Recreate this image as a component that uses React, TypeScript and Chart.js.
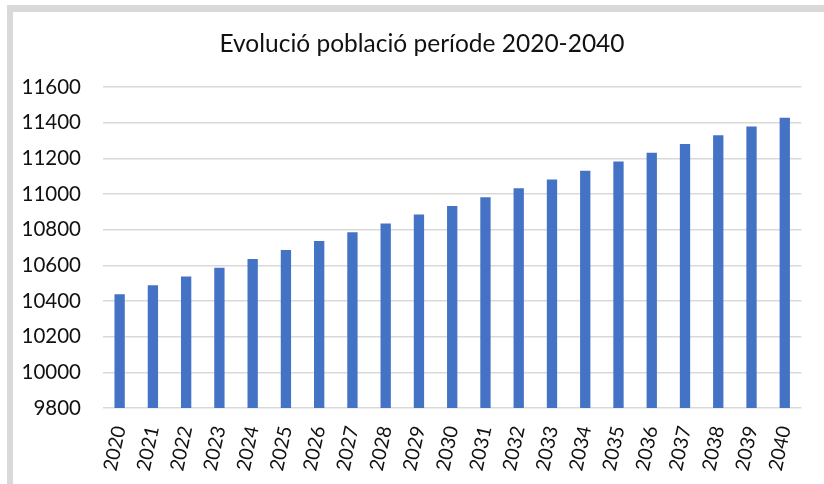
import React, { useEffect, useRef } from "react";
import { Chart, registerables } from "chart.js";

Chart.register(...registerables);

const years = ["2020","2021","2022","2023","2024","2025","2026","2027","2028","2029","2030","2031","2032","2033","2034","2035","2036","2037","2038","2039","2040"];
const population = [10438,10488,10538,10586,10635,10686,10736,10785,10834,10885,10933,10982,11032,11082,11131,11182,11232,11280,11329,11378,11428];
const titleText = "Evolució població període 2020-2040";
const yMin = 9800;
const yMax = 11600;
const yStep = 200;

const FONT = "Lato, 'Open Sans', sans-serif";

const titlePlugin = {
  id: "customTitle",
  afterDraw(chart: any) {
    const ctx = chart.ctx;
    ctx.save();
    ctx.font = `normal 24.5px ${FONT}`;
    ctx.fillStyle = "#111";
    ctx.textAlign = "center";
    ctx.textBaseline = "middle";
    ctx.fillText(titleText, 422, 44);
    ctx.restore();
  },
};

export default function App() {
  const ref = useRef<HTMLCanvasElement | null>(null);
  useEffect(() => {
    if (!ref.current) return;
    const chart = new Chart(ref.current, {
      type: "bar",
      data: {
        labels: years,
        datasets: [
          {
            data: population,
            backgroundColor: "#4472C4",
            borderWidth: 0,
            categoryPercentage: 1,
            barPercentage: 0.31,
          },
        ],
      },
      plugins: [titlePlugin],
      options: {
        animation: false,
        responsive: false,
        maintainAspectRatio: false,
        layout: { padding: { left: 0, right: 14, top: 87, bottom: 0 } },
        plugins: {
          legend: { display: false },
          tooltip: { enabled: false },
          title: { display: false },
        },
        scales: {
          x: {
            grid: { display: false, drawTicks: false },
            border: { display: false },
            ticks: {
              color: "#111",
              font: { family: FONT, size: 19.5 },
              minRotation: 78,
              maxRotation: 78,
              padding: 16,
              autoSkip: false,
            },
            afterFit: (scale: any) => {
              scale.height = 76;
            },
          },
          y: {
            min: yMin,
            max: yMax,
            grid: { color: "#d9d9d9", lineWidth: 1.4, drawTicks: false },
            border: { display: false },
            ticks: {
              stepSize: yStep,
              color: "#111",
              font: { family: FONT, size: 20.5 },
              padding: 22,
              callback: (v: any) => String(v),
            },
            afterFit: (scale: any) => {
              scale.width = 103;
            },
          },
        },
      },
    });
    return () => chart.destroy();
  }, []);
  return (
    <div style={{ position: "fixed", left: 0, top: 0, width: 824, height: 484, overflow: "hidden", background: "#fff" }}>
      <div
        style={{
          position: "absolute",
          left: 7,
          top: 5,
          width: 900,
          height: 600,
          borderLeft: "6px solid #d9d9d9",
          borderTop: "7px solid #d9d9d9",
        }}
      />
      <canvas ref={ref} width={824} height={484} style={{ position: "absolute", left: 0, top: 0 }} />
    </div>
  );
}
